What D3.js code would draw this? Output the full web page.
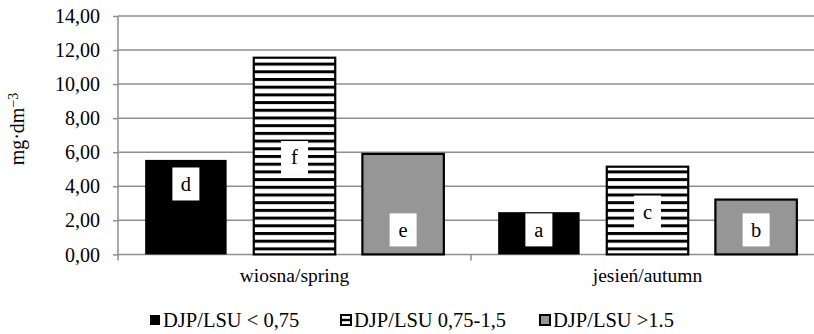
<!DOCTYPE html>
<html>
<head>
<meta charset="utf-8">
<script src="https://cdn.jsdelivr.net/npm/d3@7"></script>
<style>
  html, body { margin: 0; padding: 0; background: #fff; }
  svg text { font-family: "Liberation Serif", "Times New Roman", Times, "DejaVu Serif", serif; }
</style>
</head>
<body>
<svg id="chart" width="814" height="334"></svg>
<script>
// Seasons on the x axis
const seasons = ["wiosna/spring", "jesień/autumn"];
// Stocking density classes (series)
const classes = ["DJP/LSU < 0,75", "DJP/LSU 0,75-1,5", "DJP/LSU >1.5"];
// Concentration, mg·dm⁻³, one array per class (spring, autumn)
const lowDensity  = [5.55, 2.48];
const midDensity  = [11.55, 5.15];
const highDensity = [5.90, 3.22];
// Significance letters, per class (spring, autumn)
const lowLetters  = ["d", "a"];
const midLetters  = ["f", "c"];
const highLetters = ["e", "b"];
// Y axis ticks
const yTicks = [0, 2, 4, 6, 8, 10, 12, 14];
const yTickLabels = ["0,00", "2,00", "4,00", "6,00", "8,00", "10,00", "12,00", "14,00"];

// Where each letter box sits on its bar
const letterPlacement = {
  "d": "high", "a": "base",
  "f": "middle", "c": "middle",
  "e": "base", "b": "base"
};

const series = [
  { name: classes[0], values: lowDensity,  letters: lowLetters,  kind: "solid" },
  { name: classes[1], values: midDensity,  letters: midLetters,  kind: "hatch" },
  { name: classes[2], values: highDensity, letters: highLetters, kind: "gray" }
];

const serif = '"Liberation Serif", "Times New Roman", Times, "DejaVu Serif", serif';
const svg = d3.select("#chart");
const plotLeft = 118, plotRight = 824, plotTop = 16, plotBottom = 254.4;
const gridColor = "#8e8e8e";

const x0 = d3.scaleBand().domain(seasons).range([plotLeft, plotRight]).padding(0);
const x1 = d3.scaleBand().domain(classes).range([0, x0.bandwidth()]).padding(0.25);
const y = d3.scaleLinear().domain([0, 14]).range([plotBottom, plotTop]);

// Horizontal stripe pattern for the middle class
const defs = svg.append("defs");
const pat = defs.append("pattern")
  .attr("id", "stripes").attr("patternUnits", "userSpaceOnUse")
  .attr("width", 8).attr("height", 7.7).attr("y", 1);
pat.append("rect").attr("width", 8).attr("height", 7.7).attr("fill", "#fff");
pat.append("rect").attr("width", 8).attr("height", 3).attr("fill", "#000");

function fillFor(kind) {
  return kind === "solid" ? "#000" : kind === "hatch" ? "url(#stripes)" : "#969696";
}

// Gridlines
svg.append("g").selectAll("line").data(yTicks).join("line")
  .attr("x1", plotLeft).attr("x2", plotRight)
  .attr("y1", d => y(d)).attr("y2", d => y(d))
  .attr("stroke", gridColor).attr("stroke-width", 1.5);

// Y axis
const yAxis = d3.axisLeft(y).tickValues(yTicks)
  .tickFormat((d, i) => yTickLabels[i]).tickSize(5).tickPadding(13);
const gy = svg.append("g").attr("transform", `translate(${plotLeft},0)`).call(yAxis)
  .attr("font-family", serif).attr("font-size", 20);
gy.select(".domain").remove();
gy.append("line").attr("x1", 0).attr("x2", 0).attr("y1", plotTop).attr("y2", plotBottom + 6)
  .attr("stroke", gridColor).attr("stroke-width", 1.5);
gy.selectAll(".tick line").attr("stroke", gridColor).attr("stroke-width", 1.5);
gy.selectAll(".tick text").attr("fill", "#000").attr("dy", "0.33em");

// Category separators on the x axis
svg.append("g").selectAll("line").data(seasons.slice(1)).join("line")
  .attr("x1", d => x0(d)).attr("x2", d => x0(d))
  .attr("y1", plotBottom).attr("y2", plotBottom + 6)
  .attr("stroke", gridColor).attr("stroke-width", 1.5);

// Category labels
svg.append("g").selectAll("text").data(seasons).join("text")
  .attr("x", d => x0(d) + x0.bandwidth() / 2)
  .attr("y", 282)
  .attr("text-anchor", "middle")
  .attr("font-size", 19.5)
  .text(d => d);

// Bars
const groups = svg.append("g").selectAll("g").data(series).join("g");
groups.selectAll("rect").data(s => s.values.map((v, i) => ({ s, v, season: seasons[i], letter: s.letters[i] })))
  .join("rect")
  .attr("x", d => x0(d.season) + x1(d.s.name))
  .attr("y", d => y(d.v))
  .attr("width", x1.bandwidth())
  .attr("height", d => y(0) - y(d.v))
  .attr("fill", d => fillFor(d.s.kind))
  .attr("stroke", d => d.s.kind === "solid" ? "none" : "#000")
  .attr("stroke-width", 2.2);

// Letter boxes
const boxW = 27, boxH = 33;
const letters = svg.append("g").selectAll("g")
  .data(series.flatMap(s => s.values.map((v, i) => ({ s, v, season: seasons[i], letter: s.letters[i] }))))
  .join("g")
  .attr("transform", d => {
    const cx = x0(d.season) + x1(d.s.name) + x1.bandwidth() / 2;
    const place = letterPlacement[d.letter];
    let cy;
    if (place === "middle") cy = (y(d.v) + y(0)) / 2 + 1.5;
    else if (place === "high") cy = y(d.v * 0.745);
    else cy = y(0) - 8 - boxH / 2;
    return `translate(${cx},${cy})`;
  });
letters.append("rect")
  .attr("x", -boxW / 2).attr("y", -boxH / 2)
  .attr("width", boxW).attr("height", boxH)
  .attr("fill", "#fff");
letters.append("text")
  .attr("text-anchor", "middle").attr("dy", "0.33em")
  .attr("font-size", 20.5)
  .text(d => d.letter);

// Y axis title
const yt = svg.append("text")
  .attr("transform", "translate(24,129) rotate(-90)")
  .attr("text-anchor", "middle")
  .attr("font-size", 20);
yt.append("tspan").text("mg·dm");
yt.append("tspan").attr("dy", "-0.45em").attr("font-size", 14).text("−3");

// Legend swatches and labels
const legendX = [150, 341, 540];
const leg = svg.append("g").selectAll("g").data(series).join("g")
  .attr("transform", (d, i) => `translate(${legendX[i]},315)`);
leg.append("rect")
  .attr("width", 10).attr("height", 10)
  .attr("fill", d => d.kind === "solid" ? "#000" : d.kind === "hatch" ? "#fff" : "#969696")
  .attr("stroke", "#000")
  .attr("stroke-width", d => d.kind === "solid" ? 0 : 2);
leg.filter(d => d.kind === "hatch").append("rect")
  .attr("x", 0).attr("y", 3.8).attr("width", 10).attr("height", 2.4).attr("fill", "#000");
leg.append("text")
  .attr("x", 13).attr("y", 11.5)
  .attr("font-size", 20.5)
  .text(d => d.name);
</script>
</body>
</html>
